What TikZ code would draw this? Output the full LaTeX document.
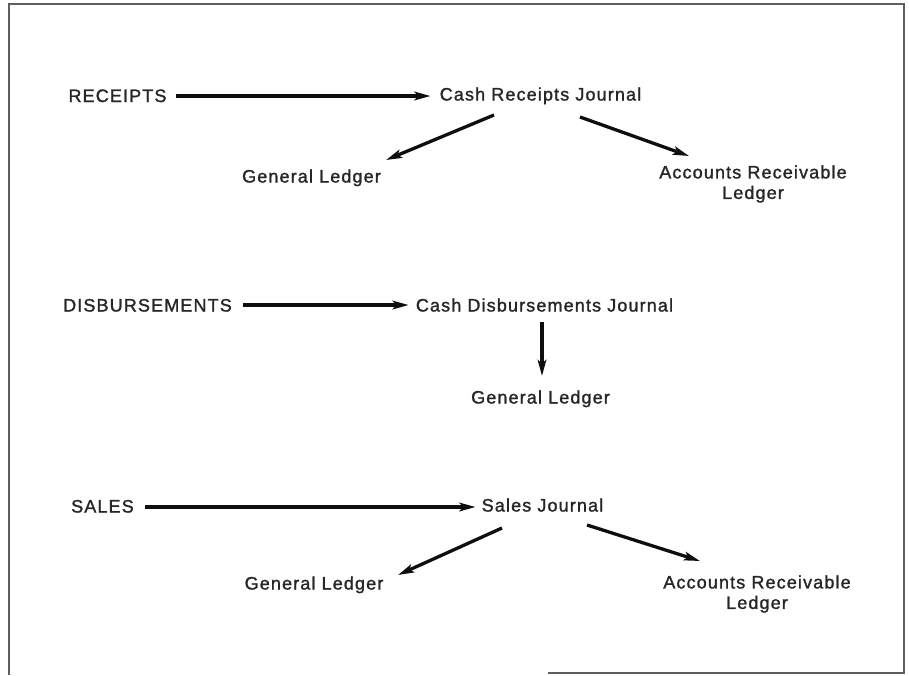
\documentclass[tikz,border=0pt]{standalone}
\usepackage{fontspec}
\setmainfont{Liberation Sans}[LetterSpace=6.3, FakeBold=1.4]
\usetikzlibrary{arrows.meta}
\definecolor{ink}{HTML}{262626}
\definecolor{rule}{HTML}{0E0E0E}
\definecolor{frame}{HTML}{5E5E5E}
\begin{document}
\begin{tikzpicture}[x=1pt,y=-1pt,
  lbl/.style={inner sep=0pt, text=ink, font=\fontsize{18}{20.5}\selectfont,
    text height=13pt, text depth=4pt},
  lbl2/.style={inner sep=0pt, text=ink, font=\fontsize{18}{20.5}\selectfont, align=center},
  arr/.style={draw=rule, line width=3.3pt,
    -{Stealth[length=16pt, width=8.5pt, inset=3.5pt]}}]
\useasboundingbox (0,0) rectangle (909,675);

% outer frame
\draw[frame, line width=2pt] (9,675) -- (9,4) -- (904,4) -- (904,673) -- (548,673);

% receipts
\node[lbl] (rec) at (117.5,97.5) {RECEIPTS};
\node[lbl] (crj) at (540.5,96) {Cash Receipts Journal};
\node[lbl] (gl1) at (311.5,178) {General Ledger};
\node[lbl2] (ar1) at (753,184) {Accounts Receivable\\Ledger};

% disbursements
\node[lbl] (dis) at (147.5,307) {DISBURSEMENTS};
\node[lbl] (cdj) at (544.5,307) {Cash Disbursements Journal};
\node[lbl] (gl2) at (540.5,399) {General Ledger};

% sales
\node[lbl] (sal) at (102.5,508) {SALES};
\node[lbl] (sj) at (542.5,507) {Sales Journal};
\node[lbl] (gl3) at (314,585) {General Ledger};
\node[lbl2] (ar3) at (757,594) {Accounts Receivable\\Ledger};

% postings
\draw[arr] ([shift={(9,-1.5)}]rec.east) -- ([shift={(-9,0)}]crj.west);
\draw[arr] ([shift={(-46.5,19)}]crj.center) -- ([shift={(74.5,-18)}]gl1.center);
\draw[arr] ([shift={(39.5,21)}]crj.center) -- ([shift={(-64,-28)}]ar1.center);

\draw[arr] ([shift={(11,-2)}]dis.east) -- ([shift={(-7,-2)}]cdj.west);
\draw[arr] ([shift={(-2.5,15)}]cdj.center) -- ([shift={(1.5,-23)}]gl2.center);

\draw[arr] ([shift={(11,-1)}]sal.east) -- ([shift={(-6,0)}]sj.west);
\draw[arr] ([shift={(-40.5,21)}]sj.center) -- ([shift={(84,-10)}]gl3.center);
\draw[arr] ([shift={(44.5,18)}]sj.center) -- ([shift={(-57,-33)}]ar3.center);
\end{tikzpicture}
\end{document}
